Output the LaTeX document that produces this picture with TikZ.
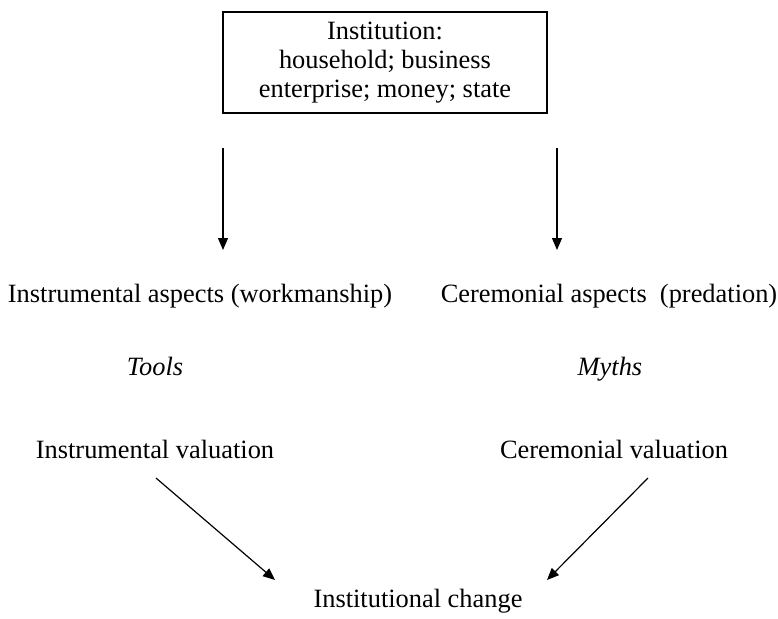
\documentclass[tikz,border=0pt]{standalone}
\usepackage{fontspec}
\setmainfont{Liberation Serif}
\usetikzlibrary{arrows.meta}
\begin{document}
\begin{tikzpicture}[x=0.5pt, y=-0.5pt,
	txt/.style={font=\fontsize{13.2}{14.5}\selectfont, anchor=base, inner sep=0pt},
	arr/.style={line width=0.6pt, black, -{Triangle[length=6pt, width=5pt]}}]
	\useasboundingbox (0,0) rectangle (778,618);
	% Box
	\node [draw, line width=0.6pt, align=center, inner sep=0pt, minimum width=162pt,
		minimum height=50.5pt, font=\fontsize{13.2}{14.5}\selectfont] (inst) at (385,62.5)
		{Institution:\\household; business\\enterprise; money; state};
	% Rows
	\node [txt] (instAsp) at (200,302) {Instrumental aspects (workmanship)};
	\node [txt] (cerAsp) at (609,302) {Ceremonial aspects~ (predation)};
	\node [txt, font=\fontsize{13.2}{14.5}\selectfont\itshape] (tools) at (155,375) {Tools};
	\node [txt, font=\fontsize{13.2}{14.5}\selectfont\itshape] (myths) at (610,375) {Myths};
	\node [txt] (instVal) at (155,458) {Instrumental valuation};
	\node [txt] (cerVal) at (614,458) {Ceremonial valuation};
	\node [txt] (change) at (418,607) {Institutional change};
	% Arrow ends
	\foreach \n/\x in {L/223, R/557} {
		\coordinate (top\n) at (\x,148);
		\coordinate (bot\n) at (\x,250);
	}
	\coordinate (valL) at (156,478);
	\coordinate (valR) at (648,478);
	\coordinate (chgL) at (275,580);
	\coordinate (chgR) at (547,580);
	% Arrows
	\foreach \n in {L, R} {
		\draw [arr] (top\n) -- (bot\n);
		\draw [arr] (val\n) -- (chg\n);
	}
\end{tikzpicture}
\end{document}
